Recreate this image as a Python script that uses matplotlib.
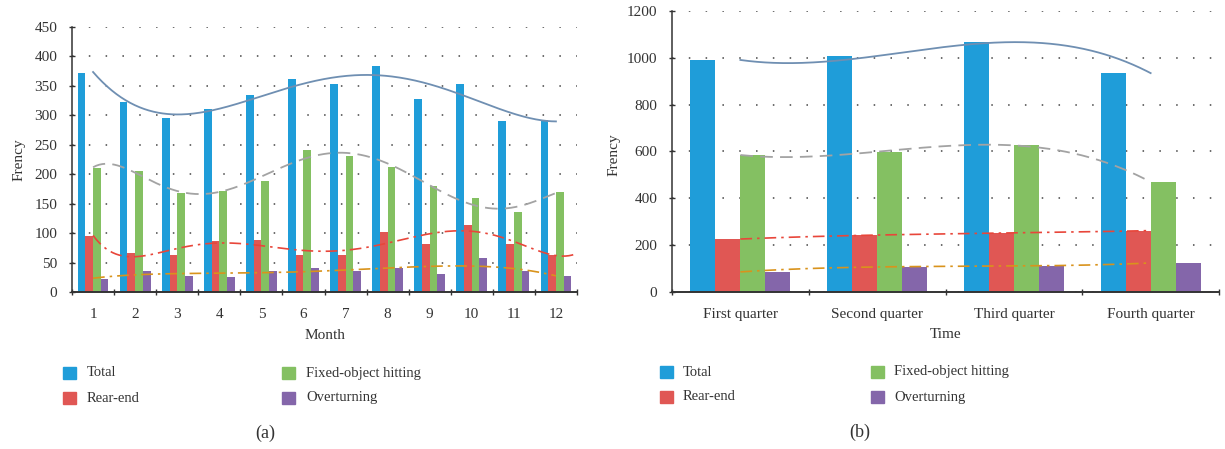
import numpy as np
import matplotlib
matplotlib.use("Agg")
import matplotlib.pyplot as plt
from matplotlib.patches import Rectangle

plt.rcParams['font.family'] = ['Liberation Serif', 'DejaVu Serif']

# Monthly accident counts
months = [str(m) for m in range(1, 13)]
total_m = [372, 322, 295, 311, 334, 361, 353, 383, 328, 353, 290, 292]
rear_m = [95, 67, 63, 87, 89, 63, 63, 102, 82, 114, 82, 63]
fixed_m = [211, 206, 168, 172, 188, 241, 231, 212, 180, 160, 136, 170]
over_m = [22, 36, 28, 26, 36, 42, 36, 42, 31, 58, 36, 28]

# Quarterly accident counts
quarters = ["First quarter", "Second quarter", "Third quarter", "Fourth quarter"]
total_q = [990, 1007, 1066, 934]
rear_q = [227, 244, 253, 263]
fixed_q = [585, 599, 626, 470]
over_q = [87, 108, 112, 125]

series_names = ["Total", "Rear-end", "Fixed-object hitting", "Overturning"]
bar_colors = ["#1f9dd9", "#e05754", "#84c062", "#8466aa"]
trend_styles = [
    dict(color="#6f8fb2", lw=1.3, ls="-"),
    dict(color="#e8463a", lw=1.2, ls=(0, (7, 3, 1.5, 3))),
    dict(color="#a3a3a3", lw=1.3, ls=(0, (7, 4))),
    dict(color="#d9931c", lw=1.2, ls=(0, (7, 3, 1.5, 3))),
]
text_color = "#333333"


def draw_panel(ax, cats, data, ylim, yticks, xlabel, degrees, forward):
    n = len(cats)
    x = np.arange(1, n + 1)
    w = 0.183
    for k, (vals, col) in enumerate(zip(data, bar_colors)):
        ax.bar(x + (k - 1.5) * w, vals, width=w, color=col, zorder=2)
    # polynomial trendlines
    for vals, style, deg, fwd in zip(data, trend_styles, degrees, forward):
        coef = np.polyfit(x, vals, deg)
        xs = np.linspace(1, n + fwd, 300)
        ax.plot(xs, np.polyval(coef, xs), zorder=3, **style)
    ax.set_xlim(0.5, n + 0.5)
    ax.set_ylim(*ylim)
    ax.set_yticks(yticks)
    ax.set_xticks(x)
    ax.set_xticklabels(cats)
    ax.set_xticks(np.arange(0.5, n + 1.0, 1.0), minor=True)
    ax.tick_params(axis="x", which="major", length=0, pad=11, labelsize=11, colors=text_color)
    ax.tick_params(axis="x", which="minor", length=5, width=1.0, direction="inout", color="#333333")
    ax.tick_params(axis="y", length=5, width=1.0, direction="inout", labelsize=11, colors=text_color, pad=8)
    ax.tick_params(axis="y", color="#333333")
    ax.grid(axis="y", color="#444444", ls=(0, (1, 10)), lw=1.1, zorder=0)
    ax.set_axisbelow(True)
    for s in ["top", "right"]:
        ax.spines[s].set_visible(False)
    ax.spines["left"].set_color("#333333")
    ax.spines["bottom"].set_color("#333333")
    ax.spines["left"].set_linewidth(1.1)
    ax.spines["bottom"].set_linewidth(1.4)
    ax.set_ylabel("Frency", fontsize=11, color=text_color)
    ax.set_xlabel(xlabel, fontsize=11, color=text_color)


fig = plt.figure(figsize=(12.25, 4.49), dpi=100)

ax_a = fig.add_axes([0.0588, 0.349, 0.4122, 0.5915])
draw_panel(ax_a, months, [total_m, rear_m, fixed_m, over_m], (0, 450),
           range(0, 451, 50), "Month", [5, 6, 6, 4], [0, 0.5, 0, 0])
ax_a.yaxis.set_label_coords(-0.093, 0.5)
ax_a.xaxis.set_label_coords(0.5, -0.14)

ax_b = fig.add_axes([0.5486, 0.349, 0.4465, 0.6272])
draw_panel(ax_b, quarters, [total_q, rear_q, fixed_q, over_q], (0, 1200),
           range(0, 1201, 200), "Time", [3, 3, 3, 3], [0, 0, 0, 0])
ax_b.yaxis.set_label_coords(-0.095, 0.49)
ax_b.xaxis.set_label_coords(0.5, -0.125)


def draw_legend(x0, x1, y_rows, text_dx):
    W, H = 1225.0, 449.0
    sq = 12.5
    items = [(x0, y_rows[0], 0), (x0, y_rows[1], 1), (x1, y_rows[0], 2), (x1, y_rows[1], 3)]
    for px, py, k in items:
        fig.patches.append(Rectangle((px / W, 1 - (py + sq / 2) / H), sq / W, sq / H,
                                     transform=fig.transFigure, color=bar_colors[k]))
        fig.text((px + text_dx) / W, 1 - py / H, series_names[k], fontsize=10.5,
                 color=text_color, va="center", ha="left")


draw_legend(63, 282, (373, 398), 24)
draw_legend(660, 871, (372, 397), 23)

fig.text(265 / 1225, 1 - 433 / 449, "(a)", fontsize=13, color=text_color, ha="center", va="center")
fig.text(860 / 1225, 1 - 432 / 449, "(b)", fontsize=13, color=text_color, ha="center", va="center")

fig.savefig("out.png", dpi=100)
